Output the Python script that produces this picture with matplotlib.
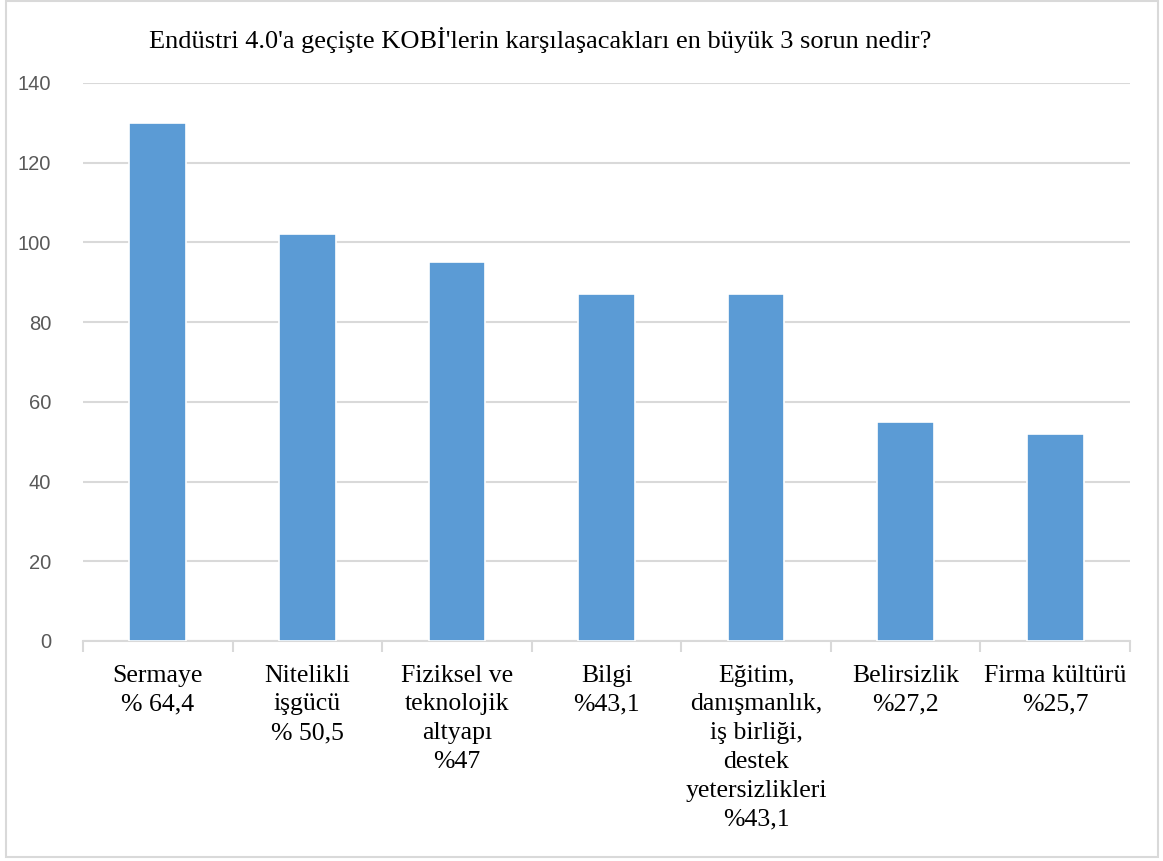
import matplotlib.pyplot as plt
from matplotlib.patches import Rectangle

categories = [
    "Sermaye\n% 64,4",
    "Nitelikli\nişgücü\n% 50,5",
    "Fiziksel ve\nteknolojik\naltyapı\n%47",
    "Bilgi\n%43,1",
    "Eğitim,\ndanışmanlık,\niş birliği,\ndestek\nyetersizlikleri\n%43,1",
    "Belirsizlik\n%27,2",
    "Firma kültürü\n%25,7",
]
values = [130, 102, 95, 87, 87, 55, 52]
yticks = [0, 20, 40, 60, 80, 100, 120, 140]

title = "Endüstri 4.0'a geçişte KOBİ'lerin karşılaşacakları en büyük 3 sorun nedir?"

W, H = 1163, 861
fig = plt.figure(figsize=(W / 100, H / 100), dpi=100)
ax = fig.add_axes([83 / W, 1 - 641 / H, (1130 - 83) / W, (641 - 83) / H])

x = list(range(len(values)))
ax.bar(x, values, width=0.38, color="#5B9BD5", edgecolor="white",
       linewidth=1.2, zorder=3)

ax.set_xlim(-0.5, len(values) - 0.5)
ax.set_ylim(0, 140)
ax.set_yticks(yticks)
ax.set_yticklabels([str(v) for v in yticks], fontsize=14.5,
                   family="Liberation Sans", color="#595959")
ax.tick_params(axis="y", length=0, pad=23)
ax.grid(axis="y", color="#d9d9d9", linewidth=1.5, zorder=0)

ax.set_xticks(x)
ax.set_xticklabels([])
ax.tick_params(axis="x", which="major", length=0)
ax.set_xticks([i - 0.5 for i in range(len(values) + 1)], minor=True)
ax.tick_params(axis="x", which="minor", length=8, width=1.5, color="#d9d9d9")

for s in ["top", "right", "left"]:
    ax.spines[s].set_visible(False)
ax.spines["bottom"].set_color("#d9d9d9")
ax.spines["bottom"].set_linewidth(1.5)

for i, lab in enumerate(categories):
    ax.annotate(lab, xy=(i, 0), xytext=(0, -17), textcoords="offset points",
                ha="center", va="top", fontsize=18.5,
                family="Liberation Serif", linespacing=1.4, color="black")

fig.text(540 / W, 1 - 40 / H, title, ha="center", va="center",
         fontsize=19, family="Liberation Serif")

fig.patches.append(Rectangle((6 / W, 1 - 857 / H), (1158 - 6) / W, (857 - 1) / H,
                             transform=fig.transFigure, fill=False,
                             edgecolor="#d9d9d9", linewidth=1.5))

fig.savefig("out.png", dpi=100)
